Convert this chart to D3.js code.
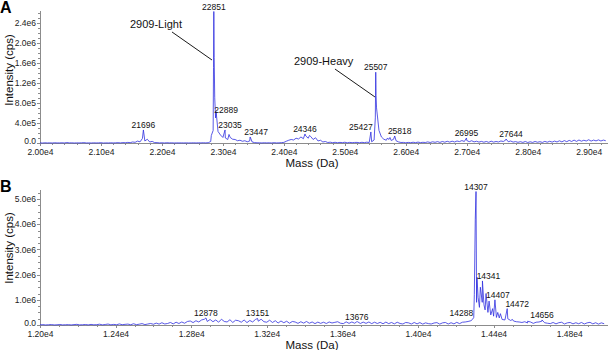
<!DOCTYPE html>
<html lang="en">
<head>
<meta charset="UTF-8">
<title>Deconvoluted mass spectra</title>
<style>
    body { margin: 0; background: #fff; }
    svg { display: block; font-family: "Liberation Sans", Arial, sans-serif; }
    .axis path, .axis line { stroke: #8c8c8c; shape-rendering: crispEdges; }
    .axis text { fill: #222; font-size: 8.5px; }
    .spec { fill: none; stroke: #2e2ee0; stroke-width: 0.8; stroke-linejoin: round; }
    .plabel { font-size: 8.5px; fill: #111; text-anchor: middle; }
    .title { font-size: 11.5px; fill: #111; }
</style>
</head>
<body>
<svg width="608" height="350"></svg>
<script src="https://d3js.org/d3.v7.min.js"></script>
<script>
// ---- panel A data (intensity in 1e3 cps) ----
var massStartA = 20000, massStepA = 40;
var noiseA = [
    2,0,4,1,3,0,5,1,2,4,
    1,9,2,4,0,3,1,4,7,1,
    2,0,4,1,3,5,0,2,1,4,
    1,4,6,2,8,5,12,7,20,14,
    38,22,90,40,75,20,32,8,7,2,
    4,1,5,2,4,0,3,1,3,1,
    3,1,2,4,1,4,2,5,2,6,
    30,250,500,230,160,110,100,70,110,75,
    70,45,55,35,45,25,40,20,8,4,
    4,1,5,2,4,1,6,2,3,7,
    12,35,55,70,60,95,80,120,85,140,
    95,130,70,105,40,55,20,30,10,16,
    6,14,5,12,7,15,4,12,6,11,
    12,5,14,7,16,10,24,60,700,250,
    120,75,55,70,50,75,45,22,10,12,
    4,12,6,15,7,18,8,14,10,22,
    10,24,14,28,12,30,16,34,18,36,
    20,40,28,48,30,50,26,45,22,35,
    18,32,16,30,14,36,18,30,20,40,
    30,60,25,40,18,28,14,26,12,30,
    10,24,12,30,15,26,12,32,16,34,
    18,38,20,44,22,48,26,52,30,58,
    32,60,36,55,40,65,38,58,42,62,
    40,58,45
];
var peaksA = [
    [21696,260],[22810,150],[22846,1500],[22851,2620],[22857,1700],[22866,900],
    [22889,620],[23035,260],[23100,170],[23447,120],[24346,180],[24420,150],
    [25427,220],[25500,500],[25507,1410],[25512,950],[25700,100],[25740,110],
    [25818,140],[26995,100],[27644,80]
];
var labelsA = [21696,22851,22889,23035,23447,24346,25427,25507,25818,26995,27644];
var xTicksA = [20000,21000,22000,23000,24000,25000,26000,27000,28000,29000];
var xTickLabelsA = ["2.00e4","2.10e4","2.20e4","2.30e4","2.40e4","2.50e4","2.60e4","2.70e4","2.80e4","2.90e4"];
var yTicksA = [0,4e5,8e5,1.2e6,1.6e6,2.0e6,2.4e6];
var yTickLabelsA = ["0.0","4.0e5","8.0e5","1.2e6","1.6e6","2.0e6","2.4e6"];
var notesA = [
    {text: "2909-Light", tx: 21476, ty: 2.291e6, x1: 22165, y1: 2.212e6, x2: 22821, y2: 1.654e6},
    {text: "2909-Heavy", tx: 24166, ty: 1.554e6, x1: 24838, y1: 1.474e6, x2: 25494, y2: 0.917e6}
];

// ---- panel B data (intensity in 1e3 cps) ----
var massStartB = 12000, massStepB = 15;
var noiseB = [
    5,15,2,10,18,3,8,20,4,10,
    14,3,16,26,5,10,20,4,24,8,
    14,32,6,20,38,8,24,10,42,12,
    26,36,10,50,14,32,55,16,38,60,
    30,75,35,90,40,60,100,45,110,60,
    120,70,140,160,95,170,120,200,230,140,
    220,130,200,110,230,140,120,210,100,190,
    170,110,200,95,180,120,220,150,230,130,
    110,190,100,170,80,160,90,150,70,140,
    120,65,130,75,140,70,120,55,115,65,
    110,60,120,80,105,130,70,55,125,65,
    120,70,130,60,115,65,120,55,110,60,
    105,50,115,55,100,45,110,60,40,100,
    85,40,100,45,95,35,85,55,40,80,
    95,35,85,100,40,90,45,105,55,110,
    120,140,170,300,900,700,900,600,500,400,
    350,300,280,220,200,250,180,160,130,120,
    100,130,80,120,65,110,120,150,90,70,
    55,100,45,90,110,40,85,100,45,90,
    50,100,40,85,105,45,90,35,85,50
];
var peaksB = [
    [12878,280],[13151,260],[13676,130],[14288,220],[14298,1200],[14303,4200],
    [14307,5300],[14312,1900],[14318,1100],[14330,1500],[14341,1750],[14349,800],
    [14360,1250],[14376,950],[14395,650],[14407,1000],[14422,500],[14436,450],
    [14472,650],[14500,220],[14580,150],[14656,200]
];
var labelsB = [12878,13151,13676,14288,14307,14341,14407,14472,14656];
var xTicksB = [12000,12400,12800,13200,13600,14000,14400,14800];
var xTickLabelsB = ["1.20e4","1.24e4","1.28e4","1.32e4","1.36e4","1.40e4","1.44e4","1.48e4"];
var yTicksB = [0,1e6,2e6,3e6,4e6,5e6];
var yTickLabelsB = ["0.0","1.0e6","2.0e6","3.0e6","4.0e6","5.0e6"];

// small nudges for peak labels that sit beside their peak (px)
var labelNudge = {22889: [10, 3], 23035: [5, 0], 23447: [6, 0], 25427: [-10, 0], 25818: [5, 0],
    27644: [5, 0], 14288: [-11, -1], 14341: [6, 0], 14407: [3, 0], 14472: [10, 0]};

var svg = d3.select("svg");

function spectrum(m0, step, noise, peaks) {
    var pts = noise.map(function(v, i) { return [m0 + step * i, v * 1e3]; });
    peaks.forEach(function(p) { pts.push([p[0], p[1] * 1e3]); });
    pts.sort(function(a, b) { return a[0] - b[0]; });
    return pts;
}

function panel(o) {
    var x = d3.scaleLinear().domain(o.xDomain).range([40, 607]);
    var y = d3.scaleLinear().domain(o.yDomain).range(o.yRange);
    var g = svg.append("g");
    var y0 = o.yRange[0];

    // minor ticks first, then major
    g.append("g").attr("class", "axis").attr("transform", "translate(0," + y0 + ")")
        .call(d3.axisBottom(x).tickValues(o.xMinor).tickSize(2).tickSizeOuter(0).tickFormat(""));
    g.append("g").attr("class", "axis").attr("transform", "translate(0," + y0 + ")")
        .call(d3.axisBottom(x).tickValues(o.xTicks).tickSize(3).tickSizeOuter(0).tickPadding(2.5)
            .tickFormat(function(d, i) { return o.xLabels[i]; }));
    g.append("g").attr("class", "axis").attr("transform", "translate(40,0)")
        .call(d3.axisLeft(y).tickValues(o.yMinor).tickSize(2).tickSizeOuter(0).tickFormat(""));
    var ya = g.append("g").attr("class", "axis").attr("transform", "translate(40,0)")
        .call(d3.axisLeft(y).tickValues(o.yTicks).tickSize(3).tickSizeOuter(0).tickPadding(1)
            .tickFormat(function(d, i) { return o.yLabels[i]; }));
    // lift the "0.0" label a little so it clears the first mass label
    ya.selectAll(".tick text").filter(function(d) { return d === 0; }).attr("dy", "0.05em");

    var data = spectrum(o.m0, o.step, o.noise, o.peaks);
    var line = d3.line().x(function(d) { return x(d[0]); }).y(function(d) { return y(d[1]); });
    g.append("path").datum(data).attr("class", "spec").attr("d", line);

    // peak labels
    var peakMap = {};
    o.peaks.forEach(function(p) { peakMap[p[0]] = p[1] * 1e3; });
    g.selectAll(".plabel").data(o.labels).enter().append("text")
        .attr("class", "plabel")
        .attr("x", function(d) { return x(d) + (labelNudge[d] ? labelNudge[d][0] : 0); })
        .attr("y", function(d) { return y(peakMap[d]) - 2 + (labelNudge[d] ? labelNudge[d][1] : 0); })
        .text(function(d) { return d; });

    // annotations
    (o.notes || []).forEach(function(n) {
        g.append("line").attr("x1", x(n.x1)).attr("y1", y(n.y1)).attr("x2", x(n.x2)).attr("y2", y(n.y2))
            .attr("stroke", "#000").attr("stroke-width", 0.9);
        g.append("text").attr("x", x(n.tx)).attr("y", y(n.ty)).style("font-size", "11px").attr("fill", "#111").text(n.text);
    });

    g.append("text").attr("class", "title").attr("text-anchor", "middle")
        .attr("x", 312).attr("y", y0 + 24).text("Mass (Da)");
    g.append("text").attr("class", "title").attr("text-anchor", "middle")
        .attr("transform", "translate(13," + o.yLabelMid + ") rotate(-90)").text("Intensity (cps)");
    g.append("text").attr("x", 0).attr("y", o.yRange[1] + 3)
        .style("font-size", "16px").style("font-weight", "bold").text(o.tag);
}

panel({
    tag: "A", m0: massStartA, step: massStepA, noise: noiseA, peaks: peaksA, labels: labelsA,
    xDomain: [20000, 29300], yDomain: [0, 2.65e6], yRange: [143, 10],
    xTicks: xTicksA, xLabels: xTickLabelsA, xMinor: d3.range(20000, 29300, 200),
    yTicks: yTicksA, yLabels: yTickLabelsA, yMinor: d3.range(0, 2.65e6, 1e5),
    notes: notesA, yLabelMid: 70
});
panel({
    tag: "B", m0: massStartB, step: massStepB, noise: noiseB, peaks: peaksB, labels: labelsB,
    xDomain: [12000, 15000], yDomain: [0, 5.4e6], yRange: [325, 189],
    xTicks: xTicksB, xLabels: xTickLabelsB, xMinor: d3.range(12000, 15000, 100),
    yTicks: yTicksB, yLabels: yTickLabelsB, yMinor: d3.range(0, 5.4e6, 2.5e5),
    yLabelMid: 248
});
</script>
</body>
</html>
